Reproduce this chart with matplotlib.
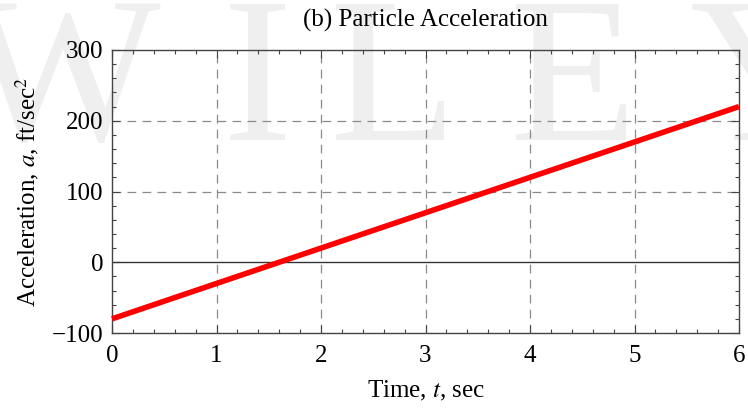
import matplotlib
matplotlib.use('Agg')
import matplotlib.pyplot as plt
from matplotlib.ticker import MultipleLocator

# values
time_sec = [0, 1, 2, 3, 4, 5, 6]
accel = [-80, -30, 20, 70, 120, 170, 220]
x_ticks = [0, 1, 2, 3, 4, 5, 6]
y_ticks = [-100, 0, 100, 200, 300]

plt.rcParams['font.family'] = ['Liberation Serif', 'DejaVu Serif']
plt.rcParams['mathtext.fontset'] = 'stix'

fig = plt.figure(figsize=(7.48, 4.09), dpi=100)

# light watermark behind the chart
wm = '#efefef'
wm_kw = dict(fontsize=150, color=wm, va='baseline', zorder=-5,
             family='Liberation Serif')
fig.text(160 / 748, 1 - 140 / 409, 'W', ha='right', **wm_kw)
fig.text(222 / 748, 1 - 140 / 409, 'I', ha='left', **wm_kw)
fig.text(330 / 748, 1 - 140 / 409, 'L', ha='left', **wm_kw)
fig.text(510 / 748, 1 - 140 / 409, 'E', ha='left', **wm_kw)
fig.text(690 / 748, 1 - 140 / 409, 'Y', ha='left', **wm_kw)

ax = fig.add_axes([112 / 748, 1 - 333 / 409, 627 / 748, 283 / 409])
ax.set_zorder(1)
ax.patch.set_alpha(0)

ax.plot(time_sec, accel, color='#ff0000', lw=4.0, zorder=3, clip_on=False,
        solid_capstyle='butt')
ax.axhline(0, color='#333333', lw=1.0, zorder=2)

ax.set_xlim(0, 6)
ax.set_ylim(-100, 300)
ax.set_xticks(x_ticks)
ax.set_yticks(y_ticks)
ax.xaxis.set_minor_locator(MultipleLocator(0.2))
ax.yaxis.set_minor_locator(MultipleLocator(20))

for v in x_ticks[1:-1]:
    ax.axvline(v, color='#8a8a8a', lw=0.9, ls=(0, (7, 5)), zorder=1)
for v in [100, 200]:
    ax.axhline(v, color='#8a8a8a', lw=0.9, ls=(0, (7, 5)), zorder=1)

ax.tick_params(which='both', direction='in', top=True, right=True,
               color='#444444', width=0.8)
ax.tick_params(which='major', length=6, labelsize=18, pad=6)
ax.tick_params(axis='x', which='major', pad=9)
ax.tick_params(which='minor', length=3)
for s in ax.spines.values():
    s.set_color('#444444')
    s.set_linewidth(1.0)

ax.set_xlabel('Time, $t$, sec', fontsize=18, labelpad=8)
ax.set_ylabel('Acceleration, $a$, ft/sec$^2$', fontsize=18, labelpad=8)
fig.text(425.5 / 748, 1 - 20 / 409, '(b) Particle Acceleration',
         fontsize=18, ha='center', va='center')

fig.savefig('out.png', dpi=100)
